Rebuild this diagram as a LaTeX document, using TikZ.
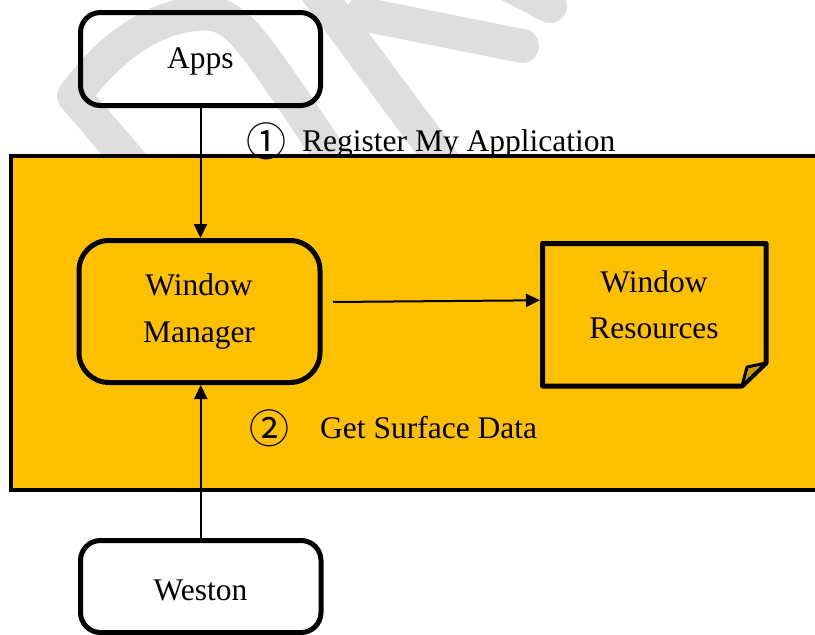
\documentclass[tikz,border=0pt]{standalone}
\usepackage{fontspec}
\setmainfont{Liberation Serif}
\newfontfamily\cjkfont{Noto Sans CJK SC}
\usetikzlibrary{arrows.meta,calc}
\definecolor{gold}{HTML}{FFC000}
\definecolor{golddark}{HTML}{C99700}
\definecolor{wmark}{HTML}{DEDEDE}
\begin{document}
\begin{tikzpicture}[x=1pt,y=-1pt,
  txt/.style={font=\fontsize{31.5}{47}\selectfont, inner sep=0pt, anchor=base},
  circ/.style={font=\cjkfont\fontsize{40}{41}\selectfont, inner sep=0pt},
  rbox/.style={draw, line width=5pt, rounded corners=#1, inner sep=0pt},
  arr/.style={line width=2pt, -{Triangle[length=14pt,width=13pt]}},
  wmk/.style={draw=wmark, line width=34pt, line cap=round, line join=round}]
\useasboundingbox (0,0) rectangle (815,635);
\clip (0,0) rectangle (815,635);
% watermark
\draw[wmk] (180,220) -- (74,96) .. controls (115,40) and (165,10) .. (212,14) .. controls (237,18) and (252,40) .. (300,110) -- (340,170);
\draw[wmk] (312,-15) -- (442,160);
\draw[wmk] (362,14) -- (522,46);
\draw[wmk] (500,-20) -- (550,6);
% container
\node[draw, line width=4pt, fill=gold, inner sep=0pt, outer sep=0pt,
      minimum width=829.5pt, minimum height=334.5pt] (area) at (425.25,322.75) {};
% boxes
\node[rbox=20pt, minimum width=240pt, minimum height=93pt] (apps) at (200.5,59) {};
\node[rbox=30pt, fill=gold, minimum width=241pt, minimum height=142pt] (wm) at (199.5,311.5) {};
\node[rbox=20pt, minimum width=240.5pt, minimum height=92pt] (weston) at (200.75,586.5) {};
\node[inner sep=0pt, outer sep=0pt, minimum width=223.5pt, minimum height=142.5pt] (wr) at (654.25,314.75) {};
\draw[line width=5pt, line join=round, fill=gold]
  (wr.north west) -- (wr.north east) -- ($(wr.north east)+(0,119.5)$)
  -- ($(wr.south west)+(199.5,0)$) -- (wr.south west) -- cycle;
\draw[line width=3pt, line join=round, fill=golddark]
  ($(wr.north east)+(-19,123.5)$) -- ($(wr.north east)+(0,119.5)$)
  -- ($(wr.south west)+(199.5,0)$) -- cycle;
% texts
\node[txt] (tapps) at (200.5,68) {Apps};
\node[txt] (twm1) at (199,295) {Window};
\node[txt] (twm2) at (199,342) {Manager};
\node[txt] (twr1) at (654,292) {Window};
\node[txt] (twr2) at (654,338) {Resources};
\node[txt] (tweston) at (200.5,600) {Weston};
\node[txt, anchor=base west] (lab1) at (302,151.5) {Register My Application};
\node[circ] (c1) at (266,141) {①};
\node[txt, anchor=base west] (lab2) at (320,438) {Get Surface Data};
\node[circ] (c2) at (269,428.5) {②};
% arrows
\draw[arr] (apps.south) -- (apps.south |- wm.north);
\draw[arr] (weston.north) -- (weston.north |- wm.south);
\draw[arr, shorten >=2.5pt] ([xshift=10.5pt,yshift=9.5pt]wm.east) -- ([yshift=14.5pt]wr.west);
\end{tikzpicture}
\end{document}
